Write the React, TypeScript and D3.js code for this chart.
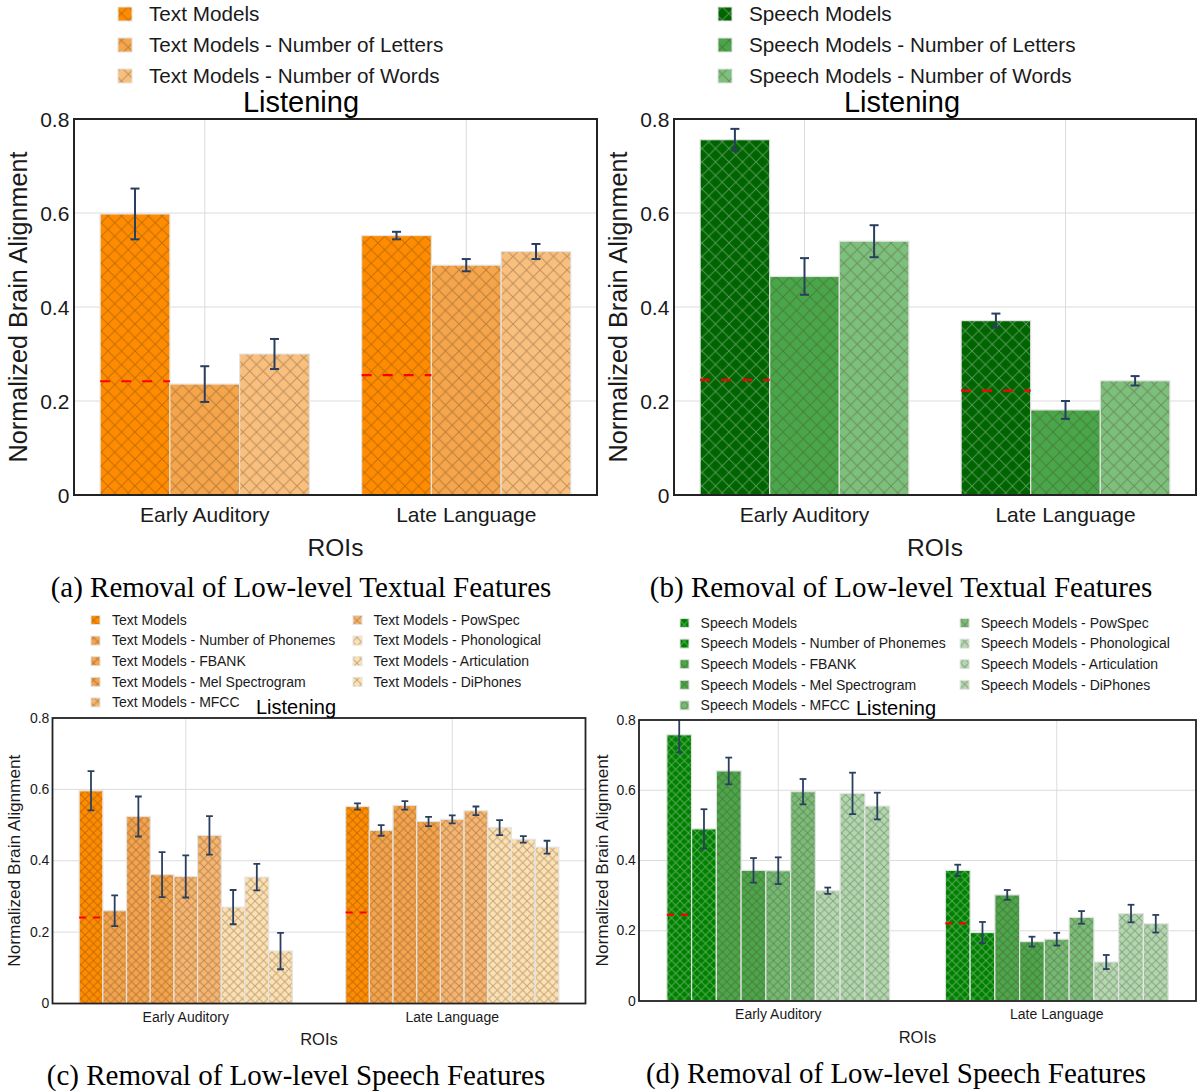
import React from "react";
import * as d3 from "d3";

const rois = ["Early Auditory", "Late Language"];
const yTicks = [0, 0.2, 0.4, 0.6, 0.8];
const yTickLabels = ["0", "0.2", "0.4", "0.6", "0.8"];

// (a) text models, low-level textual features removed
const textSeriesA = ["Text Models", "Text Models - Number of Letters", "Text Models - Number of Words"];
const textEarlyA = [0.598, 0.236, 0.3];
const textLateA = [0.552, 0.489, 0.518];
const textEarlyErrA = [0.054, 0.038, 0.032];
const textLateErrA = [0.008, 0.013, 0.016];
const textBaselineA = [0.242, 0.255];

// (b) speech models, low-level textual features removed
const speechSeriesB = ["Speech Models", "Speech Models - Number of Letters", "Speech Models - Number of Words"];
const speechEarlyB = [0.756, 0.465, 0.54];
const speechLateB = [0.371, 0.181, 0.243];
const speechEarlyErrB = [0.023, 0.039, 0.034];
const speechLateErrB = [0.015, 0.019, 0.01];
const speechBaselineB = [0.245, 0.222];

// (c) text models, low-level speech features removed
const textSeriesC = [
  "Text Models",
  "Text Models - Number of Phonemes",
  "Text Models - FBANK",
  "Text Models - Mel Spectrogram",
  "Text Models - MFCC",
  "Text Models - PowSpec",
  "Text Models - Phonological",
  "Text Models - Articulation",
  "Text Models - DiPhones",
];
const textEarlyC = [0.596, 0.26, 0.524, 0.361, 0.356, 0.471, 0.27, 0.354, 0.147];
const textLateC = [0.552, 0.485, 0.555, 0.51, 0.516, 0.54, 0.493, 0.46, 0.438];
const textEarlyErrC = [0.055, 0.043, 0.056, 0.063, 0.059, 0.054, 0.048, 0.037, 0.051];
const textLateErrC = [0.009, 0.015, 0.012, 0.013, 0.011, 0.012, 0.021, 0.009, 0.018];
const textBaselineC = [0.241, 0.255];

// (d) speech models, low-level speech features removed
const speechSeriesD = [
  "Speech Models",
  "Speech Models - Number of Phonemes",
  "Speech Models - FBANK",
  "Speech Models - Mel Spectrogram",
  "Speech Models - MFCC",
  "Speech Models - PowSpec",
  "Speech Models - Phonological",
  "Speech Models - Articulation",
  "Speech Models - DiPhones",
];
const speechEarlyD = [0.758, 0.49, 0.655, 0.372, 0.371, 0.596, 0.314, 0.591, 0.555];
const speechLateD = [0.372, 0.195, 0.302, 0.169, 0.176, 0.238, 0.111, 0.249, 0.22];
const speechEarlyErrD = [0.05, 0.056, 0.038, 0.035, 0.038, 0.036, 0.009, 0.059, 0.038];
const speechLateErrD = [0.016, 0.03, 0.014, 0.014, 0.018, 0.018, 0.02, 0.025, 0.025];
const speechBaselineD = [0.245, 0.221];

// colours
const orangeA = ["#ff8c00", "#f5a54b", "#f8bf7e"];
const greenB = ["#006400", "#4aa64a", "#7dbf7d"];
const orangeC = ["#ff8c00", "#f4a44d", "#f4a44d", "#f4a44c", "#f6b570", "#f6b672", "#fde1b2", "#fde1b2", "#fde1b2"];
const greenD = ["#008000", "#008000", "#4ca64c", "#4ca64c", "#74ba74", "#7abd7a", "#b3d9b3", "#b0d8b0", "#b0d8b0"];
const lightHatchB = [true, false, false];
const lightHatchD = [true, true, false, false, false, false, false, false, false];

const SANS = "'Liberation Sans', Arial, sans-serif";
const SERIF = "'Liberation Serif', 'Times New Roman', serif";
const INK = "#1a1a1a";
const ERR = "#2a3f5f";

type PanelProps = {
  id: string;
  left: number; right: number; top: number; bottom: number;
  series: string[]; colors: string[]; lightHatch: boolean[];
  early: number[]; late: number[]; earlyErr: number[]; lateErr: number[]; baseline: number[];
  title: string; titleX: number; titleY: number;
  caption: string; captionX: number; captionY: number;
  tickFs: number; axisFs: number; yTitleFs: number; titleFs: number; legendFs: number;
  yTitleX: number; xTickDy: number; xTitleDy: number; dy: number;
  legend: { mx: number; tx: number; y: number }[]; marker: number;
  hatch: number; capW: number; errW: number; dash: string; frameW: number;
};

function Panel(p: PanelProps) {
  const x0 = d3.scaleBand().domain(rois).range([p.left, p.right]).paddingInner(0.2).paddingOuter(0.1);
  const x1 = d3.scaleBand().domain(p.series).range([0, x0.bandwidth()]);
  const y = d3.scaleLinear().domain([0, 0.8]).range([p.bottom, p.top]);
  const vals = [p.early, p.late];
  const errs = [p.earlyErr, p.lateErr];
  const bw = x1.bandwidth();
  const s = p.hatch;
  const dy = p.dy;
  return (
    <g>
      <defs>
        <clipPath id={`clip-${p.id}`}>
          <rect x={p.left} y={p.top} width={p.right - p.left} height={p.bottom - p.top} />
        </clipPath>
        {[["dark", "rgba(70,45,20,0.33)"], ["light", "rgba(255,255,255,0.33)"]].map(([k, c]) => (
          <pattern key={k} id={`hatch-${p.id}-${k}`} patternUnits="userSpaceOnUse" width={s} height={s}>
            <path d={`M0,0L${s},${s}M${s},0L0,${s}`} stroke={c} strokeWidth={1} />
          </pattern>
        ))}
      </defs>

      {/* grid */}
      {yTicks.slice(1, -1).map((t) => (
        <line key={t} x1={p.left} x2={p.right} y1={y(t)} y2={y(t)} stroke="#dcdcdc" strokeWidth={1} />
      ))}
      {rois.map((r) => {
        const cx = (x0(r) as number) + x0.bandwidth() / 2;
        return <line key={r} x1={cx} x2={cx} y1={p.top} y2={p.bottom} stroke="#dcdcdc" strokeWidth={1} />;
      })}

      {/* bars */}
      {rois.map((r, j) =>
        p.series.map((sr, i) => {
          const bx = (x0(r) as number) + (x1(sr) as number);
          const by = y(vals[j][i]);
          return (
            <g key={`${r}-${sr}`}>
              <rect x={bx} y={by} width={bw} height={p.bottom - by} fill={p.colors[i]} />
              <rect x={bx} y={by} width={bw} height={p.bottom - by}
                fill={`url(#hatch-${p.id}-${p.lightHatch[i] ? "light" : "dark"})`}
                stroke="#e4e4e4" strokeWidth={1.2} />
            </g>
          );
        })
      )}

      {/* baselines */}
      {rois.map((r, j) => {
        const bx = (x0(r) as number) + (x1(p.series[0]) as number);
        return (
          <line key={r} x1={bx} x2={bx + bw} y1={y(p.baseline[j])} y2={y(p.baseline[j])}
            stroke="#ff0000" strokeWidth={2.2} strokeDasharray={p.dash} />
        );
      })}

      {/* error bars */}
      <g clipPath={`url(#clip-${p.id})`}>
        {rois.map((r, j) =>
          p.series.map((sr, i) => {
            const cx = (x0(r) as number) + (x1(sr) as number) + bw / 2;
            const lo = y(vals[j][i] - errs[j][i]);
            const hi = y(vals[j][i] + errs[j][i]);
            return (
              <g key={`${r}-${sr}`} stroke={ERR} strokeWidth={p.errW}>
                <line x1={cx} x2={cx} y1={lo} y2={hi} />
                <line x1={cx - p.capW} x2={cx + p.capW} y1={lo} y2={lo} />
                <line x1={cx - p.capW} x2={cx + p.capW} y1={hi} y2={hi} />
              </g>
            );
          })
        )}
      </g>

      {/* frame */}
      <rect x={p.left} y={p.top} width={p.right - p.left} height={p.bottom - p.top}
        fill="none" stroke="#222" strokeWidth={p.frameW} />

      {/* y ticks */}
      {yTicks.map((t, k) => (
        <text key={t} x={p.left - p.tickFs * 0.22} y={y(t) + dy} textAnchor="end" dominantBaseline="middle"
          fontSize={p.tickFs} fontFamily={SANS} fill={INK}>{yTickLabels[k]}</text>
      ))}
      {/* x ticks */}
      {rois.map((r) => (
        <text key={r} x={(x0(r) as number) + x0.bandwidth() / 2} y={p.bottom + p.xTickDy + dy}
          textAnchor="middle" dominantBaseline="middle" fontSize={p.tickFs} fontFamily={SANS} fill={INK}>{r}</text>
      ))}
      <text x={(p.left + p.right) / 2} y={p.bottom + p.xTitleDy + dy} textAnchor="middle" dominantBaseline="middle"
        fontSize={p.axisFs} fontFamily={SANS} fill={INK}>ROIs</text>
      <text transform={`translate(${p.yTitleX},${(p.top + p.bottom) / 2}) rotate(-90)`} textAnchor="middle"
        dominantBaseline="middle" fontSize={p.yTitleFs} fontFamily={SANS} fill={INK}>Normalized Brain Alignment</text>

      <text x={p.titleX} y={p.titleY + dy} textAnchor="middle" dominantBaseline="middle"
        fontSize={p.titleFs} fontFamily={SANS} fill="#000">{p.title}</text>

      {/* legend */}
      {p.series.map((sr, i) => {
        const it = p.legend[i];
        const m = p.marker;
        return (
          <g key={sr}>
            <rect x={it.mx - m / 2} y={it.y - m / 2} width={m} height={m} fill={p.colors[i]} />
            <rect x={it.mx - m / 2} y={it.y - m / 2} width={m} height={m}
              fill={`url(#hatch-${p.id}-${p.lightHatch[i] ? "light" : "dark"})`} stroke="#e4e4e4" strokeWidth={1} />
            <text x={it.tx} y={it.y + dy} dominantBaseline="middle" fontSize={p.legendFs} fontFamily={SANS} fill={INK}>{sr}</text>
          </g>
        );
      })}

      <text x={p.captionX} y={p.captionY + 2} textAnchor="middle" dominantBaseline="middle"
        fontSize={29} fontFamily={SERIF} fill="#000">{p.caption}</text>
    </g>
  );
}

const bigLegend = (dx: number) => [0, 1, 2].map((i) => ({ mx: 125 + dx, tx: 149 + dx, y: 14 + 31 * i }));
const smallLegend = (mx1: number, tx1: number, mx2: number, tx2: number, y0: number) => {
  const rows = [0, 20.6, 41.2, 61.8, 82.4];
  const out: { mx: number; tx: number; y: number }[] = [];
  rows.forEach((r) => out.push({ mx: mx1, tx: tx1, y: y0 + r }));
  rows.slice(0, 4).forEach((r) => out.push({ mx: mx2, tx: tx2, y: y0 + r }));
  return out;
};

const bigStyle = {
  tickFs: 21, axisFs: 24.5, yTitleFs: 25.2, titleFs: 29, legendFs: 20.7, xTickDy: 19, xTitleDy: 53, dy: 2,
  marker: 14, hatch: 13.5, capW: 4.5, errW: 2, dash: "10,11", frameW: 2,
};
const smallStyle = {
  tickFs: 14, axisFs: 16.5, yTitleFs: 17.2, titleFs: 20, legendFs: 14, xTickDy: 13.5, xTitleDy: 36.5, dy: 1,
  marker: 9, hatch: 8.5, capW: 3.4, errW: 1.8, dash: "7,7", frameW: 1.8,
};

export default function App() {
  return (
    <svg width={1198} height={1092} style={{ position: "absolute", left: 0, top: 0, background: "#fff" }}>
      <rect width={1198} height={1092} fill="#fff" />
      <Panel id="a" left={74} right={597} top={119} bottom={495}
        series={textSeriesA} colors={orangeA} lightHatch={[false, false, false]}
        early={textEarlyA} late={textLateA} earlyErr={textEarlyErrA} lateErr={textLateErrA} baseline={textBaselineA}
        title="Listening" titleX={301} titleY={102}
        caption="(a) Removal of Low-level Textual Features" captionX={301} captionY={588}
        yTitleX={20} legend={bigLegend(0)} {...bigStyle} />
      <Panel id="b" left={674} right={1196} top={119} bottom={495}
        series={speechSeriesB} colors={greenB} lightHatch={lightHatchB}
        early={speechEarlyB} late={speechLateB} earlyErr={speechEarlyErrB} lateErr={speechLateErrB} baseline={speechBaselineB}
        title="Listening" titleX={902} titleY={102}
        caption="(b) Removal of Low-level Textual Features" captionX={901} captionY={588}
        yTitleX={620} legend={bigLegend(600)} {...bigStyle} />
      <Panel id="c" left={52.5} right={585.5} top={718} bottom={1003.5}
        series={textSeriesC} colors={orangeC} lightHatch={textSeriesC.map(() => false)}
        early={textEarlyC} late={textLateC} earlyErr={textEarlyErrC} lateErr={textLateErrC} baseline={textBaselineC}
        title="Listening" titleX={296} titleY={708}
        caption="(c) Removal of Low-level Speech Features" captionX={296} captionY={1076}
        yTitleX={15} legend={smallLegend(95.5, 112, 357.5, 373.5, 620)} {...smallStyle} />
      <Panel id="d" left={639} right={1196} top={720} bottom={1001}
        series={speechSeriesD} colors={greenD} lightHatch={lightHatchD}
        early={speechEarlyD} late={speechLateD} earlyErr={speechEarlyErrD} lateErr={speechLateErrD} baseline={speechBaselineD}
        title="Listening" titleX={896} titleY={709}
        caption="(d) Removal of Low-level Speech Features" captionX={896} captionY={1074}
        yTitleX={603} legend={smallLegend(684.5, 700.6, 964.6, 980.7, 623)} {...smallStyle} />
    </svg>
  );
}
